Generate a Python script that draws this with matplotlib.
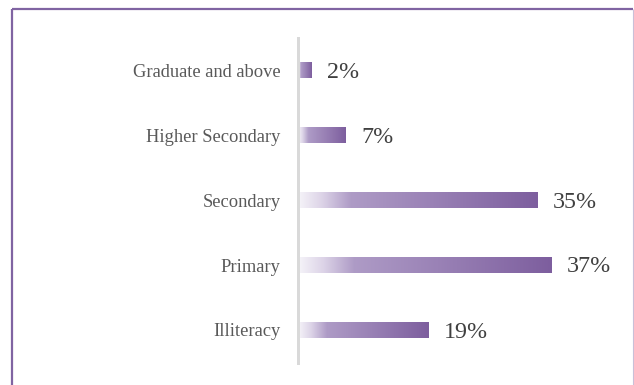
import numpy as np
import matplotlib
matplotlib.use("Agg")
import matplotlib.pyplot as plt
from matplotlib.colors import LinearSegmentedColormap
from matplotlib.lines import Line2D

# Education level distribution (percent)
categories = ["Graduate and above", "Higher Secondary", "Secondary", "Primary", "Illiteracy"]
values = [2, 7, 35, 37, 19]
value_labels = ["2%", "7%", "35%", "37%", "19%"]

W, H = 634, 385
fig = plt.figure(figsize=(W / 100, H / 100), dpi=100)
fig.patch.set_facecolor("white")

# axes placement in pixels
left_px, right_px = 297.5, 297.5 + 45 * 6.85
top_px, bottom_px = 37.5, 362.5
ax = fig.add_axes([left_px / W, (H - bottom_px) / H,
                   (right_px - left_px) / W, (bottom_px - top_px) / H])
ax.set_xlim(0, 45)
ax.set_ylim(len(categories) - 0.5, -0.5)
ax.set_facecolor("none")

grad = LinearSegmentedColormap.from_list(
    "lavender",
    [(0.0, "#f6f4f9"), (0.10, "#dcd3e7"), (0.22, "#ae9bc6"),
     (0.55, "#9a82b6"), (1.0, "#7d5e9e")])
ramp = np.linspace(0, 1, 256).reshape(1, -1)

ypos = np.arange(len(categories))
bar_h = 0.24
bars = ax.barh(ypos, values, height=bar_h, color="none", edgecolor="none")
for bar in bars:
    x0, y0 = bar.get_x(), bar.get_y()
    w, h = bar.get_width(), bar.get_height()
    im = ax.imshow(ramp, cmap=grad, aspect="auto", interpolation="bilinear",
                   extent=(x0, x0 + w, y0 + h, y0), zorder=2)
    im.set_clip_path(bar)
ax.set_xlim(0, 45)
ax.set_ylim(len(categories) - 0.5, -0.5)

for y, v, lab in zip(ypos, values, value_labels):
    ax.annotate(lab, xy=(v, y), xytext=(16, -2), textcoords="offset pixels",
                ha="left", va="center", fontsize=17.3,
                family="Liberation Serif", color="#404040")

ax.set_yticks(ypos)
ax.set_yticklabels(categories, family="Liberation Serif", fontsize=13.3, color="#595959")
ax.tick_params(axis="y", length=0, pad=17 * 72 / 100)
ax.set_xticks([])
for s in ("top", "right", "bottom"):
    ax.spines[s].set_visible(False)
ax.spines["left"].set_color("#d9d9d9")
ax.spines["left"].set_linewidth(3 * 72 / 100)
ax.spines["left"].set_zorder(3)

# chart frame
fx = lambda px: px / W
fy = lambda py: (H - py) / H
fig.add_artist(Line2D([fx(11.5), fx(633)], [fy(9), fy(9)], transform=fig.transFigure,
                      color="#8064a2", linewidth=1.6, solid_capstyle="butt"))
fig.add_artist(Line2D([fx(11.5), fx(11.5)], [fy(9), fy(386)], transform=fig.transFigure,
                      color="#8064a2", linewidth=1.6, solid_capstyle="butt"))
fig.add_artist(Line2D([fx(633.3), fx(633.3)], [fy(9), fy(386)], transform=fig.transFigure,
                      color="#c9c0d8", linewidth=0.8, solid_capstyle="butt"))

fig.savefig("out.png", dpi=100, facecolor="white")
